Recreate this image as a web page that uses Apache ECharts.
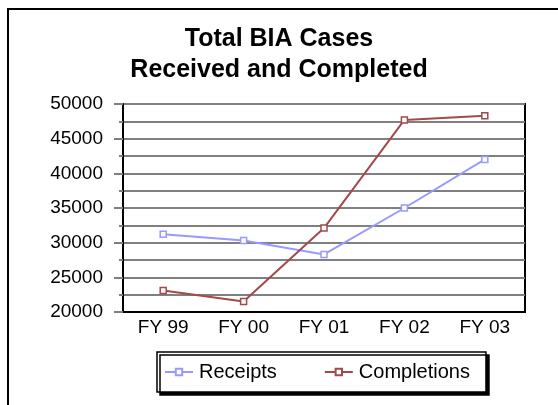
<!DOCTYPE html>
<html>
<head>
<meta charset="utf-8">
<script src="https://cdn.jsdelivr.net/npm/echarts@6/dist/echarts.min.js"></script>
<style>
  html, body { margin: 0; padding: 0; background: #fff; }
  #chart { width: 558px; height: 405px; }
</style>
</head>
<body>
<div id="chart"></div>
<script>
// data
const years = ['FY 99', 'FY 00', 'FY 01', 'FY 02', 'FY 03'];
const receipts = [31200, 30300, 28300, 35000, 42000];
const completions = [23100, 21500, 32100, 47700, 48300];

const font = 'Liberation Sans, Arial, sans-serif';
const gray = '#808080';

const myChart = echarts.init(document.getElementById('chart'));

const option = {
  animation: false,
  backgroundColor: '#fff',
  // outer frame, right and bottom edges fall outside the picture
  graphic: [{
    type: 'rect',
    shape: { x: 8, y: 9, width: 700, height: 600 },
    style: { fill: 'none', stroke: '#000', lineWidth: 2 }
  }],
  title: {
    text: 'Total BIA Cases\nReceived and Completed',
    left: 274,
    top: 19,
    textAlign: 'center',
    textStyle: {
      fontFamily: font,
      fontSize: 25,
      fontWeight: 'bold',
      lineHeight: 31,
      color: '#000'
    }
  },
  legend: {
    data: ['Receipts', 'Completions'],
    left: 157,
    top: 352,
    padding: [10, 16, 10, 7],
    itemWidth: 28,
    itemHeight: 8,
    itemGap: 47,
    backgroundColor: '#fff',
    borderColor: '#000',
    borderWidth: 1.5,
    borderRadius: 0,
    shadowColor: '#000',
    shadowBlur: 0,
    shadowOffsetX: 3,
    shadowOffsetY: 3,
    textStyle: { fontFamily: font, fontSize: 20, color: '#000', padding: [0, 0, 0, 1] }
  },
  grid: {
    left: 123,
    right: 33,
    top: 104,
    bottom: 93,
    show: true,
    borderColor: '#000',
    borderWidth: 2,
    backgroundColor: '#fff'
  },
  xAxis: {
    type: 'category',
    data: years,
    boundaryGap: true,
    axisLine: { lineStyle: { color: '#000', width: 2 } },
    axisTick: { alignWithLabel: true, length: 7, lineStyle: { color: gray, width: 1.5 } },
    axisLabel: { fontFamily: font, fontSize: 19, color: '#000', margin: 6 }
  },
  yAxis: {
    type: 'value',
    min: 20000,
    max: 50000,
    interval: 5000,
    axisLine: { show: true, lineStyle: { color: '#000', width: 2 } },
    axisTick: { show: true, length: 9, lineStyle: { color: gray, width: 2 } },
    minorTick: { show: true, splitNumber: 2, length: 4, lineStyle: { color: gray, width: 2 } },
    splitLine: { lineStyle: { color: gray, width: 2 } },
    minorSplitLine: { show: true, lineStyle: { color: gray, width: 2 } },
    axisLabel: {
      fontFamily: font,
      fontSize: 19,
      color: '#000',
      margin: 20,
      formatter: (v) => String(v)
    }
  },
  series: [
    {
      name: 'Receipts',
      type: 'line',
      data: receipts,
      symbol: 'rect',
      symbolSize: 6,
      color: '#9999FF',
      lineStyle: { width: 2, color: '#9999FF' },
      itemStyle: { color: '#fff', borderColor: '#9999FF', borderWidth: 1.5 }
    },
    {
      name: 'Completions',
      type: 'line',
      data: completions,
      symbol: 'rect',
      symbolSize: 6,
      color: '#A24A4A',
      lineStyle: { width: 2, color: '#A24A4A' },
      itemStyle: { color: '#fff', borderColor: '#A24A4A', borderWidth: 1.5 }
    }
  ]
};

option && myChart.setOption(option);
</script>
</body>
</html>
